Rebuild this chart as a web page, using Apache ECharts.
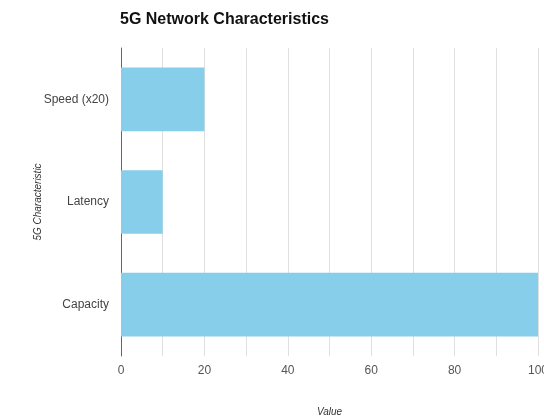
<!DOCTYPE html>
<html><head><meta charset="utf-8">
<script src="https://cdn.jsdelivr.net/npm/echarts@6/dist/echarts.min.js"></script>
<style>html,body{margin:0;padding:0;background:#fff}#c{width:544px;height:416px}</style>
</head><body><div id="c"></div>
<script>
var categories = ['Speed (x20)', 'Latency', 'Capacity'];
var values = [20, 10, 100];
var chart = echarts.init(document.getElementById('c'), null, {renderer: 'canvas'});
chart.setOption({
  animation: false,
  title: {text: '5G Network Characteristics', left: 115, top: 7,
    textStyle: {fontFamily: 'Liberation Sans, Arial', fontSize: 16, fontWeight: 'bold', color: '#111'}},
  grid: {left: 121, right: 6, top: 48, bottom: 60, containLabel: false, outerBoundsMode: 'none'},
  xAxis: {type: 'value', min: 0, max: 100, interval: 10,
    name: 'Value', nameLocation: 'middle', nameGap: 51, nameMoveOverlap: false,
    nameTextStyle: {fontFamily: 'Liberation Sans, Arial', fontSize: 10, fontStyle: 'italic', color: '#333'},
    axisLine: {show: false}, axisTick: {show: false},
    axisLabel: {margin: 9, color: '#555', fontFamily: 'Liberation Sans, Arial', fontSize: 12,
      formatter: function(v){ return v % 20 === 0 ? String(v) : ''; }},
    splitLine: {show: true, lineStyle: {color: '#e0e0e0', width: 1}}
  },
  yAxis: {type: 'category', data: categories, inverse: true,
    name: '5G Characteristic', nameLocation: 'middle', nameGap: 78, nameRotate: 90, nameMoveOverlap: false,
    nameTextStyle: {fontFamily: 'Liberation Sans, Arial', fontSize: 10, fontStyle: 'italic', color: '#333'},
    axisLine: {show: true, lineStyle: {color: '#666', width: 1}}, axisTick: {show: false},
    axisLabel: {margin: 12, color: '#444', fontFamily: 'Liberation Sans, Arial', fontSize: 12}
  },
  series: [{type: 'bar', data: values, barCategoryGap: '38%',
    itemStyle: {color: '#87CEEB'}}]
});
</script></body></html>
